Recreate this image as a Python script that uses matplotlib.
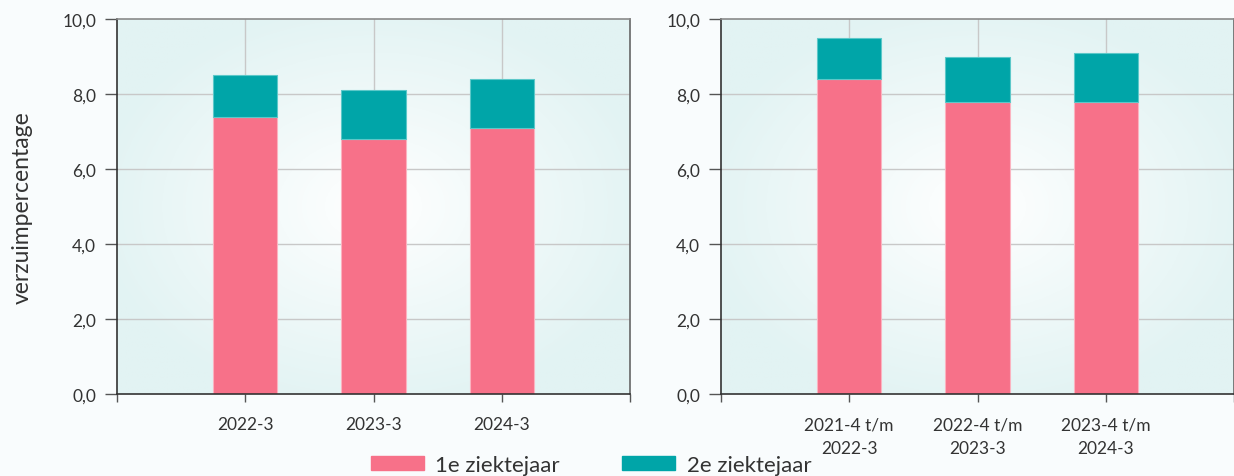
import numpy as np
import matplotlib
matplotlib.use("Agg")
import matplotlib.pyplot as plt
from matplotlib.colors import LinearSegmentedColormap
from matplotlib.patches import Patch

# data
labels_left = ["2022-3", "2023-3", "2024-3"]
labels_right = ["2021-4 t/m\n2022-3", "2022-4 t/m\n2023-3", "2023-4 t/m\n2024-3"]
jaar1_left = [7.4, 6.8, 7.1]
jaar2_left = [1.1, 1.3, 1.3]
jaar1_right = [8.4, 7.8, 7.8]
jaar2_right = [1.1, 1.2, 1.3]
yticks = [0, 2, 4, 6, 8, 10]

pink = "#F77189"
teal = "#00A5A8"
txt = "#333333"

plt.rcParams['font.family'] = ['Lato', 'DejaVu Sans']

fig = plt.figure(figsize=(12.34, 4.77), dpi=100)
fig.patch.set_facecolor("#F9FCFD")

ax1 = fig.add_axes([117/1234, 1-395/477, 513/1234, 375/477])
ax2 = fig.add_axes([721/1234, 1-395/477, 513/1234, 375/477])

# radial background gradient
bg = LinearSegmentedColormap.from_list("bg", ["#FFFFFF", "#F0F9F9", "#E2F3F3"])
gx, gy = np.meshgrid(np.linspace(-1, 1, 300), np.linspace(-1, 1, 200))
rad = np.clip(np.sqrt(gx**2 + gy**2) / 1.1, 0, 1)


def draw_panel(ax, labels, j1, j2):
    ax.imshow(rad, cmap=bg, extent=(0, 1, 0, 1), transform=ax.transAxes,
              aspect="auto", zorder=0, interpolation="bilinear")
    x = np.arange(1, len(labels) + 1)
    ax.bar(x, j1, width=0.5, color=pink, edgecolor="#FBB3C0", linewidth=0.8, zorder=3)
    ax.bar(x, j2, bottom=j1, width=0.5, color=teal, edgecolor="#5CC8C9", linewidth=0.8, zorder=3)
    ax.set_xlim(0, len(labels) + 1)
    ax.set_ylim(0, 10)
    ax.set_yticks(yticks)
    ax.set_yticklabels([("%.1f" % v).replace(".", ",") for v in yticks], color=txt, fontsize=12.5)
    ax.set_xticks(range(0, len(labels) + 2))
    ax.set_xticklabels([""] + labels + [""], color=txt, fontsize=12.5, linespacing=1.6)
    for v in x:
        ax.axvline(v, color="#C8C8C8", linewidth=1, zorder=1)
    for v in yticks[1:-1]:
        ax.axhline(v, color="#C8C8C8", linewidth=1, zorder=1)
    ax.tick_params(axis="y", length=9, width=1, color="#555555", pad=6)
    ax.tick_params(axis="x", length=6, width=1, color="#555555", pad=10)
    ax.spines["left"].set_color("#333333")
    ax.spines["bottom"].set_color("#333333")
    ax.spines["top"].set_color("#8A8A8A")
    ax.spines["right"].set_color("#666666")
    for s in ax.spines.values():
        s.set_linewidth(1.2)
        s.set_zorder(4)


draw_panel(ax1, labels_left, jaar1_left, jaar2_left)
draw_panel(ax2, labels_right, jaar1_right, jaar2_right)

fig.text(22/1234, 1-208/477, "verzuimpercentage",
         rotation=90, ha="center", va="center", fontsize=16.5, color=txt)

handles = [Patch(color=pink, label="1e ziektejaar"), Patch(color=teal, label="2e ziektejaar")]
fig.legend(handles=handles, loc="center", bbox_to_anchor=(591/1234, 1-466/477), ncol=2,
           frameon=False, fontsize=16, handlelength=2.4, handleheight=0.55,
           columnspacing=2.8, handletextpad=0.5, labelcolor=txt)

fig.savefig("out.png", dpi=100, facecolor=fig.get_facecolor())
